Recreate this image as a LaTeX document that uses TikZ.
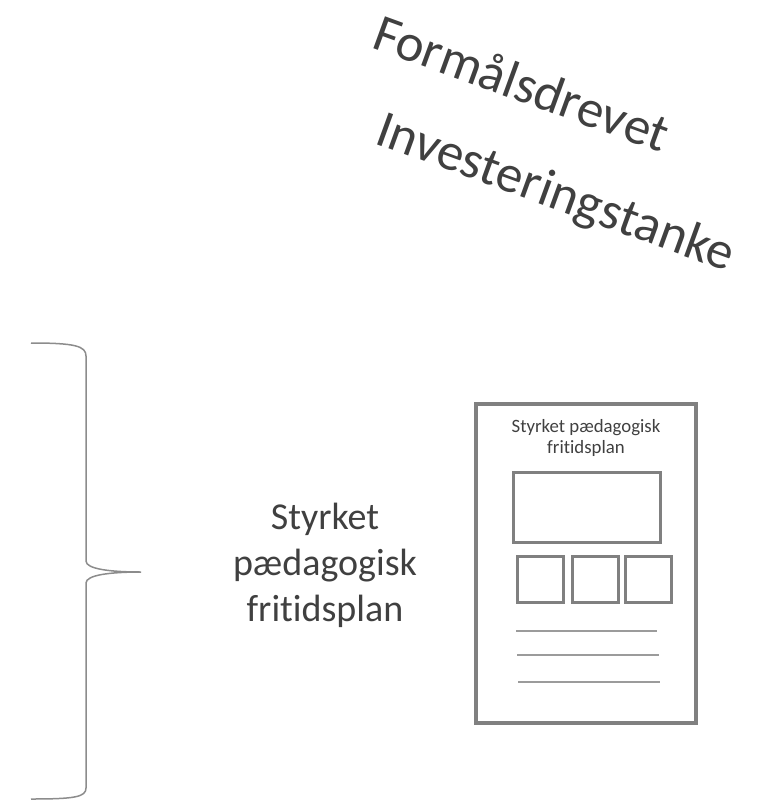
\documentclass[tikz,border=0pt]{standalone}
\usepackage{fontspec}
\setmainfont{Carlito}[Ligatures=NoCommon]
\usepackage{tikz}
\definecolor{textgray}{RGB}{64,64,64}
\definecolor{framegray}{RGB}{128,128,128}
\definecolor{bracegray}{RGB}{140,140,140}
\definecolor{rulegray}{RGB}{155,155,155}
\pgfdeclarelayer{edgelayer}
\pgfdeclarelayer{nodelayer}
\pgfsetlayers{edgelayer,nodelayer,main}
\tikzstyle{headline}=[text=textgray,font=\fontsize{53}{64}\selectfont,rotate=-20,anchor=base west,inner sep=0]
\tikzstyle{sidetext}=[text=textgray,font=\fontsize{38}{46}\selectfont,align=center,inner sep=0]
\tikzstyle{pagetext}=[text=textgray,font=\fontsize{18.8}{21}\selectfont,align=center,inner sep=0]
\tikzstyle{box}=[draw=framegray,line width=3pt,inner sep=0]
\tikzstyle{brace}=[draw=bracegray,line width=1.5pt]
\tikzstyle{rule}=[draw=rulegray,line width=1.5pt]

\begin{document}
\begin{tikzpicture}[x=1pt,y=-1pt]
        \useasboundingbox (0,0) rectangle (769,807);
        \begin{pgfonlayer}{nodelayer}
            \node [style = headline] (t1) at (370, 47) {Formålsdrevet};
            \node [style = headline] (t2) at (373, 143) {Investeringstanke};

            \node [style = sidetext] (plan) at (325, 565) {Styrket\\pædagogisk\\fritidsplan};

            \node [style = box, line width=3.5pt, minimum width=220pt, minimum height=319pt] (page) at (586, 563.5) {};
            \node [style = pagetext] (pagetitle) at (586, 438) {Styrket pædagogisk\\fritidsplan};
            \node [style = box, minimum width=147pt, minimum height=70pt] (photo) at (586.5, 507) {};
            \node [style = box, minimum width=46pt, minimum height=46pt] (sq1) at (540, 579) {};
            \node [style = box, minimum width=46pt, minimum height=46pt] (sq2) at (595, 579) {};
            \node [style = box, minimum width=46pt, minimum height=46pt] (sq3) at (648, 579) {};
        \end{pgfonlayer}

        \begin{pgfonlayer}{edgelayer}
            \draw [style = rule] (516, 631) -- (657, 631);
            \draw [style = rule] (517, 655) -- (659, 655);
            \draw [style = rule] (518, 682) -- (660, 682);

            \coordinate (tip) at (141, 572);
            \draw [style = brace] (31, 343) .. controls (75, 343) and (86, 346) .. (86, 356)
                -- (86, 561) .. controls (86, 569) and (110, 572) .. (tip)
                .. controls (110, 572) and (86, 575) .. (86, 583)
                -- (86, 788) .. controls (86, 797) and (75, 799) .. (31, 799);
        \end{pgfonlayer}
    \end{tikzpicture}
\end{document}
